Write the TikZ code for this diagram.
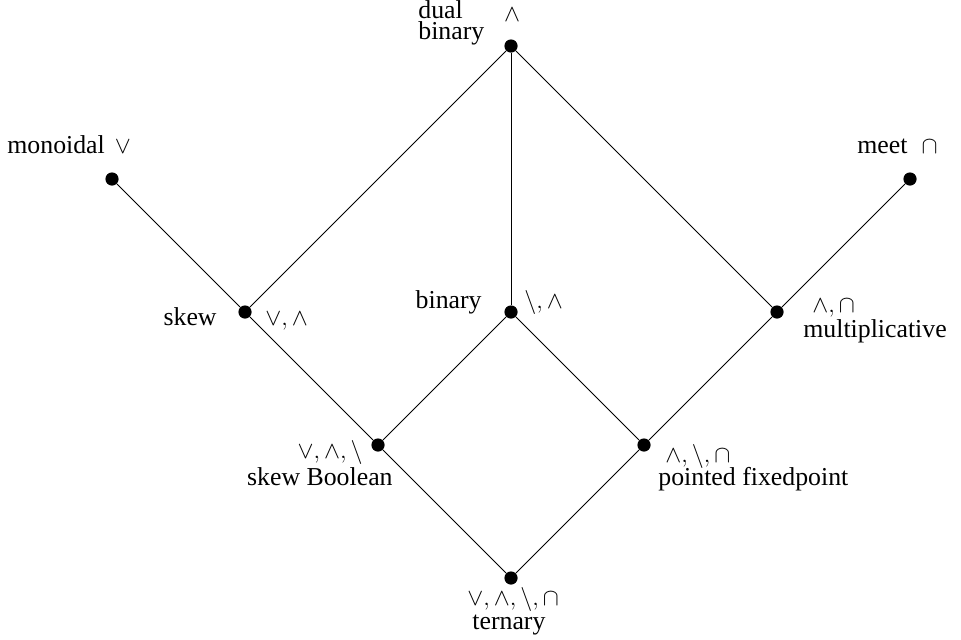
\documentclass[tikz,border=0pt]{standalone}
\usepackage{amsmath}
\usepackage{amssymb}
\usepackage{fontspec}
\setmainfont{Liberation Serif}
\usepackage{tikz}

\tikzset{
  dot/.style={circle, fill=black, inner sep=0pt, minimum size=6.6pt},
  lbl/.style={inner sep=0pt, font=\fontsize{12.9}{10.4}\selectfont},
  edge/.style={line width=0.5pt}
}

\begin{document}
\begin{tikzpicture}[x=0.5pt, y=-0.5pt]
  \useasboundingbox (0,0) rectangle (961,639);

  % lattice points
  \node[dot] (dualbin) at (511,46) {};
  \node[dot] (monoid)  at (112,179) {};
  \node[dot] (meet)    at (910,179) {};
  \node[dot] (skew)    at (245,312) {};
  \node[dot] (bin)     at (511,312) {};
  \node[dot] (mult)    at (777,312) {};
  \node[dot] (skewb)   at (378,445) {};
  \node[dot] (fixpt)   at (644,445) {};
  \node[dot] (tern)    at (511,578) {};

  % order relations
  \draw[edge] (monoid) -- (skew) -- (skewb) -- (tern);
  \draw[edge] (meet) -- (mult) -- (fixpt) -- (tern);
  \draw[edge] (dualbin) -- (skew);
  \draw[edge] (dualbin) -- (bin);
  \draw[edge] (dualbin) -- (mult);
  \draw[edge] (bin) -- (skewb);
  \draw[edge] (bin) -- (fixpt);

  % labels
  \node[lbl, anchor=base west, align=left] (tdualbin) at (418,39) {dual\\binary};
  \node[lbl, anchor=base] (sdualbin) at (512,21) {$\wedge$};
  \node[lbl, anchor=base west] (tmonoid) at (7,153) {monoidal\hspace{5pt}$\vee$};
  \node[lbl, anchor=base west] (tmeet) at (857,153) {meet\hspace{7pt}$\cap$};
  \node[lbl, anchor=base east] (tskew) at (217,325) {skew};
  \node[lbl, anchor=base west] (sskew) at (265,325) {$\vee, \wedge$};
  \node[lbl, anchor=base east] (tbin) at (482,308) {binary};
  \node[lbl, anchor=base west] (sbin) at (524,308) {$\setminus, \wedge$};
  \node[lbl, anchor=base west] (smult) at (812,312) {$\wedge, \cap$};
  \node[lbl, anchor=base west] (tmult) at (803,337) {multiplicative};
  \node[lbl, anchor=base east] (sskewb) at (363,458) {$\vee, \wedge, \setminus$};
  \node[lbl, anchor=base east] (tskewb) at (393,485) {skew Boolean};
  \node[lbl, anchor=base west] (sfixpt) at (665,462) {$\wedge, \setminus, \cap$};
  \node[lbl, anchor=base west] (tfixpt) at (658,485) {pointed fixedpoint};
  \node[lbl, anchor=base west] (stern) at (467,605) {$\vee, \wedge, \setminus, \cap$};
  \node[lbl, anchor=base west] (ttern) at (472,629) {ternary};
\end{tikzpicture}
\end{document}
